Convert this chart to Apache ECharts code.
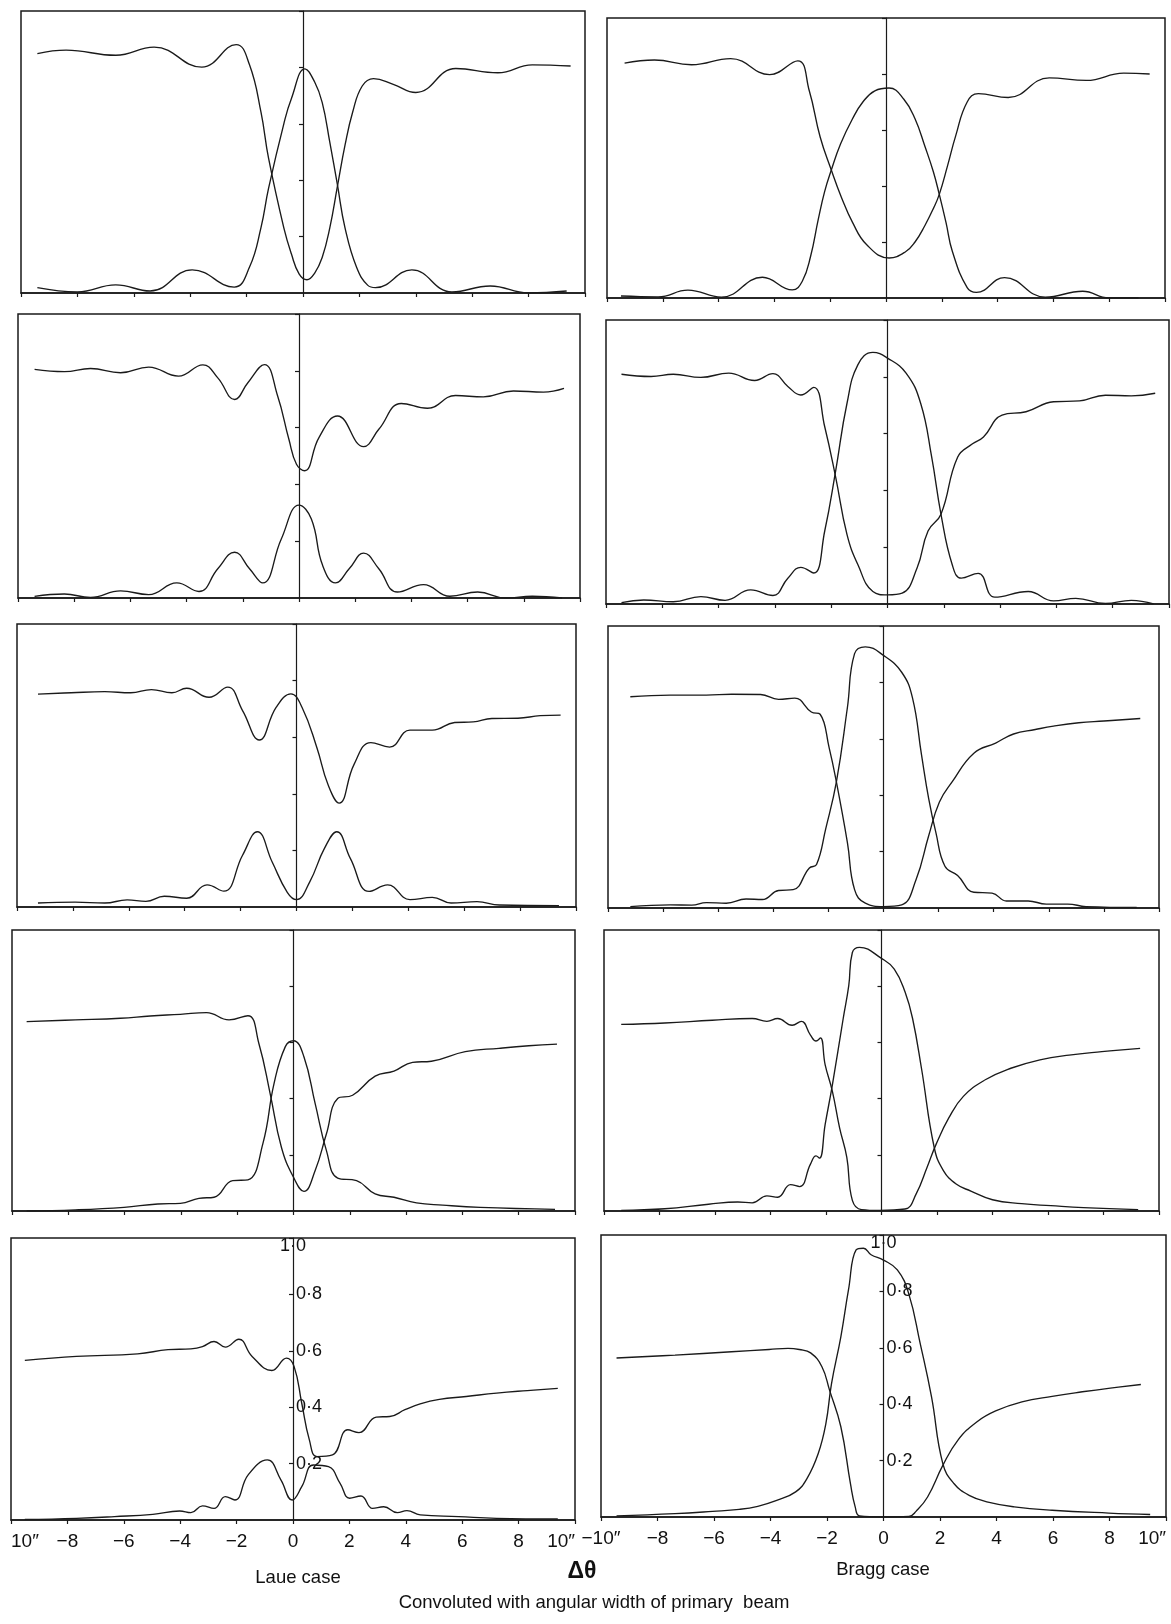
<!DOCTYPE html>
<html><head><meta charset="utf-8">
<script src="https://cdn.jsdelivr.net/npm/echarts@6/dist/echarts.min.js"></script>
<style>html,body{margin:0;padding:0;background:#fff}#c{width:1171px;height:1624px}</style>
</head><body><div id="c"></div><script>
// ---- Data: [Δθ (seconds of arc), intensity] ----
const xTicks = [-10,-8,-6,-4,-2,0,2,4,6,8,10];
const yTicks = [0.2,0.4,0.6,0.8,1.0];

const laue1A = [[-9.42,0.849],[-8.4,0.861],[-6.64,0.843],[-5.28,0.872],[-3.59,0.801],[-2.37,0.881],[-1.9,0.81],[-1.49,0.641],[-1.22,0.477],[-0.68,0.231],[-0.41,0.138],[-0.14,0.068],[0.14,0.047],[0.41,0.07],[0.68,0.126],[0.95,0.231],[1.22,0.378],[1.49,0.524],[1.76,0.641],[2.1,0.734],[2.5,0.76],[3.2,0.74],[4.0,0.711],[5.42,0.796],[6.91,0.781],[8.13,0.809],[9.49,0.805]];
const laue1B = [[-9.42,0.019],[-8.0,0.004],[-6.64,0.029],[-5.42,0.007],[-3.93,0.082],[-2.44,0.021],[-1.9,0.091],[-1.49,0.232],[-1.22,0.372],[-0.68,0.6],[-0.41,0.69],[0.07,0.795],[0.41,0.749],[0.68,0.676],[0.95,0.535],[1.22,0.384],[1.49,0.231],[1.9,0.091],[2.3,0.027],[2.57,0.019],[3.86,0.082],[5.28,0.004],[6.64,0.025],[7.99,0],[9.35,0.007]];

const bragg1A = [[-9.37,0.839],[-8.3,0.85],[-6.97,0.833],[-5.57,0.855],[-4.17,0.798],[-3.16,0.847],[-2.75,0.74],[-2.36,0.575],[-1.96,0.457],[-1.6,0.36],[-1.2,0.27],[-0.69,0.19],[0.11,0.143],[0.7,0.165],[1.04,0.2],[1.4,0.26],[1.7,0.32],[1.91,0.37],[2.2,0.47],[2.5,0.58],[2.91,0.7],[3.31,0.73],[4.38,0.716],[5.85,0.786],[7.18,0.777],[8.52,0.803],[9.45,0.8]];
const bragg1B = [[-9.5,0.007],[-8.17,0.004],[-7.1,0.028],[-5.9,0.003],[-4.43,0.074],[-3.36,0.029],[-3.0,0.06],[-2.7,0.15],[-2.43,0.28],[-2.2,0.38],[-1.96,0.457],[-1.63,0.55],[-1.2,0.64],[-0.83,0.7],[-0.4,0.74],[0.11,0.75],[0.64,0.71],[1.04,0.64],[1.4,0.54],[1.7,0.45],[1.91,0.37],[2.15,0.27],[2.38,0.166],[2.91,0.037],[3.24,0.02],[4.25,0.073],[5.71,0.003],[7.05,0.024],[7.99,0],[9.05,0]];

const laue2A = [[-9.41,0.805],[-8.35,0.797],[-7.42,0.808],[-6.35,0.793],[-5.35,0.813],[-4.29,0.781],[-3.42,0.821],[-2.89,0.775],[-2.29,0.699],[-1.82,0.758],[-1.23,0.822],[-0.76,0.711],[-0.36,0.559],[-0.09,0.471],[0.2,0.448],[0.71,0.565],[1.37,0.641],[2.3,0.533],[2.84,0.594],[3.64,0.685],[4.57,0.668],[5.57,0.713],[6.56,0.708],[7.63,0.729],[8.7,0.725],[9.43,0.738]];
const laue2B = [[-9.41,0.006],[-8.35,0.014],[-7.42,0.002],[-6.35,0.025],[-5.35,0.012],[-4.35,0.053],[-3.56,0.023],[-2.89,0.103],[-2.29,0.161],[-1.76,0.103],[-1.29,0.053],[-0.63,0.208],[0,0.327],[0.44,0.278],[0.84,0.115],[1.3,0.053],[1.8,0.105],[2.3,0.158],[2.84,0.103],[3.5,0.021],[4.43,0.047],[5.37,0.006],[6.36,0.021],[7.36,0],[8.3,0.006],[9.36,0]];

const bragg2A = [[-9.45,0.809],[-8.4,0.801],[-7.61,0.809],[-6.63,0.798],[-5.64,0.813],[-4.72,0.787],[-4.07,0.811],[-3.54,0.766],[-3.08,0.736],[-2.62,0.763],[-2.23,0.624],[-1.84,0.446],[-1.44,0.245],[-1.05,0.138],[-0.52,0.044],[0,0.032],[0.52,0.038],[1.05,0.127],[1.44,0.257],[1.9,0.316],[2.49,0.517],[3.02,0.564],[3.41,0.588],[4.07,0.665],[4.92,0.677],[5.9,0.712],[6.82,0.715],[7.74,0.735],[8.66,0.733],[9.51,0.742]];
const bragg2B = [[-9.45,0.005],[-8.66,0.014],[-7.61,0.008],[-6.63,0.026],[-5.77,0.013],[-4.86,0.05],[-4.07,0.03],[-3.54,0.091],[-3.08,0.129],[-2.62,0.109],[-2.23,0.257],[-1.84,0.47],[-1.44,0.706],[-1.05,0.843],[-0.52,0.886],[0,0.866],[0.66,0.813],[1.18,0.706],[1.57,0.517],[1.9,0.316],[2.3,0.138],[2.62,0.091],[3.22,0.108],[3.81,0.024],[5.0,0.044],[5.9,0.011],[6.69,0.02],[7.74,0.002],[8.66,0.013],[9.45,0]];

const laue3A = [[-9.25,0.752],[-8.06,0.757],[-6.86,0.761],[-5.93,0.757],[-5.19,0.768],[-4.46,0.757],[-3.93,0.773],[-3.13,0.741],[-2.46,0.777],[-1.93,0.694],[-1.33,0.59],[-0.73,0.705],[-0.2,0.753],[0.2,0.705],[0.73,0.563],[1.13,0.432],[1.53,0.367],[2.06,0.504],[2.66,0.581],[3.33,0.565],[4.06,0.625],[4.86,0.625],[5.66,0.652],[6.32,0.654],[6.99,0.666],[7.92,0.667],[8.72,0.676],[9.45,0.678]];
const laue3B = [[-9.25,0.014],[-7.92,0.017],[-6.86,0.014],[-6.06,0.025],[-5.39,0.02],[-4.73,0.038],[-3.93,0.031],[-3.2,0.078],[-2.6,0.056],[-1.93,0.183],[-1.4,0.266],[-0.87,0.159],[-0.33,0.052],[0,0.026],[0.47,0.088],[1.0,0.207],[1.44,0.266],[1.93,0.171],[2.6,0.055],[3.26,0.078],[4.06,0.026],[4.86,0.034],[5.53,0.014],[6.46,0.019],[7.26,0.007],[9.39,0.005]];

const bragg3A = [[-9.19,0.749],[-7.74,0.755],[-6.43,0.755],[-5.51,0.758],[-4.46,0.757],[-3.81,0.74],[-3.22,0.744],[-2.62,0.695],[-2.3,0.687],[-1.97,0.567],[-1.71,0.447],[-1.31,0.232],[-1.05,0.065],[-0.66,0.017],[0,0.005],[0.66,0.011],[1.18,0.1],[1.64,0.256],[2.03,0.376],[2.49,0.447],[3.28,0.549],[4.07,0.585],[4.72,0.617],[5.51,0.633],[6.17,0.645],[7.09,0.657],[8.0,0.663],[9.32,0.672]];
const bragg3B = [[-9.19,0.005],[-7.74,0.011],[-6.96,0.01],[-6.43,0.019],[-5.71,0.017],[-4.99,0.032],[-4.4,0.03],[-3.81,0.062],[-3.28,0.065],[-2.69,0.142],[-2.43,0.154],[-2.1,0.28],[-1.71,0.447],[-1.31,0.711],[-1.05,0.902],[-0.66,0.926],[0,0.896],[0.66,0.836],[1.05,0.746],[1.38,0.543],[1.64,0.388],[1.9,0.268],[2.23,0.148],[2.69,0.115],[3.28,0.056],[3.94,0.053],[4.46,0.025],[5.25,0.025],[5.91,0.014],[6.69,0.014],[7.35,0.005],[9.19,0.002]];

const laue4A = [[-9.48,0.674],[-7.75,0.68],[-6.15,0.686],[-5.09,0.694],[-4.02,0.7],[-3.09,0.706],[-2.29,0.68],[-1.62,0.695],[-1.23,0.596],[-0.83,0.418],[-0.43,0.227],[0,0.12],[0.37,0.07],[0.77,0.144],[1.17,0.275],[1.57,0.4],[2.1,0.412],[2.9,0.48],[3.57,0.498],[4.23,0.529],[4.9,0.533],[6.1,0.567],[7.3,0.579],[8.36,0.588],[9.36,0.594]];
const laue4B = [[-9.48,0],[-7.75,0.004],[-6.02,0.013],[-4.82,0.025],[-4.02,0.027],[-3.36,0.045],[-2.82,0.049],[-2.16,0.108],[-1.62,0.111],[-1.09,0.239],[-0.69,0.454],[-0.29,0.585],[0,0.606],[0.37,0.549],[0.77,0.382],[1.17,0.215],[1.57,0.117],[2.24,0.108],[2.9,0.061],[3.57,0.049],[4.37,0.029],[5.3,0.021],[6.63,0.013],[9.29,0.006]];

const bragg4A = [[-9.38,0.664],[-7.81,0.669],[-6.1,0.679],[-4.66,0.685],[-4.13,0.675],[-3.74,0.685],[-3.22,0.661],[-2.89,0.675],[-2.56,0.626],[-2.36,0.605],[-2.2,0.616],[-2.03,0.52],[-1.77,0.426],[-1.51,0.296],[-1.25,0.191],[-1.05,0.038],[-0.72,0.005],[-0.07,0.002],[0.85,0.007],[1.25,0.061],[1.64,0.155],[1.97,0.238],[2.43,0.332],[2.95,0.408],[3.74,0.467],[4.66,0.508],[5.71,0.538],[6.76,0.555],[7.94,0.567],[9.32,0.579]];
const bragg4B = [[-9.38,0.002],[-7.81,0.008],[-6.23,0.024],[-5.18,0.032],[-4.66,0.029],[-4.13,0.054],[-3.74,0.049],[-3.28,0.094],[-2.95,0.087],[-2.56,0.167],[-2.36,0.196],[-2.23,0.188],[-2.03,0.308],[-1.77,0.449],[-1.38,0.685],[-1.18,0.802],[-1.05,0.92],[-0.79,0.938],[0,0.899],[0.46,0.861],[0.85,0.779],[1.12,0.685],[1.44,0.508],[1.9,0.226],[2.23,0.144],[2.69,0.096],[3.22,0.071],[4.0,0.04],[5.05,0.026],[6.1,0.019],[7.28,0.012],[9.25,0.005]];

const laue5A = [[-9.51,0.566],[-7.68,0.58],[-5.51,0.589],[-4.43,0.604],[-3.62,0.607],[-3.21,0.615],[-2.8,0.633],[-2.4,0.613],[-1.92,0.641],[-1.45,0.58],[-0.75,0.53],[-0.23,0.574],[0.04,0.544],[0.31,0.414],[0.58,0.284],[0.85,0.225],[1.4,0.231],[1.94,0.32],[2.34,0.31],[2.95,0.365],[3.43,0.367],[3.97,0.391],[4.51,0.412],[5.19,0.428],[6.14,0.438],[7.22,0.45],[8.31,0.459],[9.39,0.467]];
const laue5B = [[-9.51,0.002],[-7.68,0.006],[-6.33,0.012],[-4.97,0.02],[-4.02,0.032],[-3.62,0.026],[-3.21,0.05],[-2.8,0.041],[-2.4,0.083],[-2.06,0.071],[-1.59,0.16],[-0.91,0.213],[-0.43,0.142],[-0.03,0.071],[0.31,0.118],[0.72,0.195],[1.26,0.189],[1.67,0.13],[2.01,0.077],[2.41,0.085],[2.82,0.041],[3.22,0.047],[3.7,0.026],[4.04,0.033],[4.51,0.018],[5.87,0.012],[7.22,0.006],[9.39,0.004]];

const bragg5A = [[-9.45,0.564],[-7.38,0.574],[-5.38,0.586],[-4.05,0.594],[-3.38,0.598],[-2.98,0.594],[-2.58,0.582],[-2.18,0.533],[-1.91,0.45],[-1.51,0.32],[-1.17,0.118],[-1.0,0.035],[-0.85,0.004],[-0.04,0],[0.9,0.002],[1.15,0.02],[1.56,0.071],[2.1,0.183],[2.63,0.272],[3.3,0.337],[3.97,0.376],[4.9,0.408],[5.97,0.428],[7.04,0.444],[8.1,0.458],[9.11,0.47]];
const bragg5B = [[-9.45,0.004],[-7.38,0.012],[-6.05,0.02],[-5.11,0.027],[-4.45,0.038],[-3.78,0.059],[-3.11,0.089],[-2.71,0.136],[-2.31,0.225],[-2.04,0.331],[-1.84,0.473],[-1.51,0.639],[-1.24,0.805],[-0.97,0.947],[-0.71,0.953],[-0.44,0.93],[0,0.911],[0.49,0.876],[0.89,0.793],[1.3,0.615],[1.7,0.426],[2.1,0.189],[2.5,0.118],[3.03,0.077],[3.7,0.053],[4.63,0.036],[5.97,0.024],[7.97,0.014],[9.44,0.009]];

// ---- Layout (panel frames in px) ----
const layout = [
  {col:'L', left:21,  top:11,   w:564, h:282, curves:[laue1A, laue1B]},
  {col:'R', left:607, top:18,   w:558, h:280, curves:[bragg1A, bragg1B]},
  {col:'L', left:18,  top:314,  w:562, h:284, curves:[laue2A, laue2B]},
  {col:'R', left:606, top:320,  w:563, h:284, curves:[bragg2A, bragg2B]},
  {col:'L', left:17,  top:624,  w:559, h:283, curves:[laue3A, laue3B]},
  {col:'R', left:608, top:626,  w:551, h:282, curves:[bragg3A, bragg3B]},
  {col:'L', left:12,  top:930,  w:563, h:281, curves:[laue4A, laue4B]},
  {col:'R', left:604, top:930,  w:555, h:281, curves:[bragg4A, bragg4B]},
  {col:'L', left:11,  top:1238, w:564, h:282, curves:[laue5A, laue5B]},
  {col:'R', left:601, top:1235, w:565, h:282, curves:[bragg5A, bragg5B]}
];

const FONT = '"Liberation Sans", Arial, Helvetica, sans-serif';
const INK = '#1a1a1a';
function xLabel(v, col) {
  if (v === -10) return col === 'L' ? '10\u2033' : '\u221210\u2033';
  if (v === 10) return '10\u2033';
  if (v < 0) return '\u2212' + (-v);
  return String(v);
}
const grids = [], xAxes = [], yAxes = [], series = [];
layout.forEach((p, i) => {
  const bottom = i >= 8;
  grids.push({left:p.left, top:p.top, width:p.w, height:p.h, show:true,
    borderColor:INK, borderWidth:1.5, backgroundColor:'#fff'});
  xAxes.push({type:'value', gridIndex:i, min:-10, max:10,
    axisLine:{show:true, onZero:false, lineStyle:{color:INK, width:1.5}},
    axisTick:{show:true, length:4, customValues:xTicks, lineStyle:{color:INK, width:1.2}},
    axisLabel:{show:bottom, customValues:xTicks, fontSize:19, color:'#111', fontFamily:FONT, margin:12,
      formatter: v => xLabel(v, p.col), alignMinLabel: p.col === 'L' ? 'left' : 'center', alignMaxLabel:'right'},
    splitLine:{show:false}});
  // vertical axis drawn through Δθ = 0 (centre of the panel)
  yAxes.push({type:'value', gridIndex:i, min:0, max:1, position:'left', offset:-p.w / 2,
    axisLine:{show:true, onZero:false, lineStyle:{color:INK, width:1.2}},
    axisTick:{show:true, length:4, inside:false, customValues:yTicks, lineStyle:{color:INK, width:1.2}},
    axisLabel:{show:bottom, inside:true, margin:3, fontSize:18, color:'#111', fontFamily:FONT,
      customValues:yTicks.slice(0, 4),
      formatter: v => v.toFixed(1).replace('.', '\u00b7')},
    name: bottom ? '1\u00b70' : '', nameLocation:'end', nameGap:-17,
    nameTextStyle:{fontSize:18, color:'#111', fontFamily:FONT, align:'center'},
    splitLine:{show:false}});
  p.curves.forEach(d => series.push({type:'line', xAxisIndex:i, yAxisIndex:i, data:d,
    showSymbol:false, smooth:0.45, silent:true, z:3,
    lineStyle:{color:INK, width:1.35}}));
});

const texts = [
  {t:'Laue case', x:298, y:1578, f:'18.5px ' + FONT},
  {t:'Bragg case', x:883, y:1570, f:'18.5px ' + FONT},
  {t:'\u0394\u03b8', x:582, y:1572, f:'bold 23px ' + FONT},
  {t:'Convoluted with angular width of primary  beam', x:594, y:1603, f:'18.5px ' + FONT}
];

const chart = echarts.init(document.getElementById('c'));
chart.setOption({
  animation:false,
  backgroundColor:'#fff',
  grid:grids, xAxis:xAxes, yAxis:yAxes, series:series,
  graphic: texts.map(o => ({type:'text', x:o.x, y:o.y,
    style:{text:o.t, font:o.f, fill:'#111', textAlign:'center', textVerticalAlign:'middle'}}))
});
</script></body></html>
